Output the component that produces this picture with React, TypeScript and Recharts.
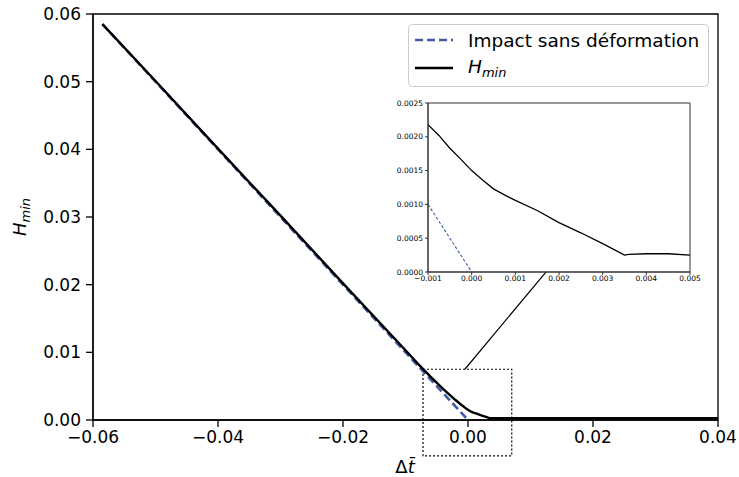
import { LineChart, Line, XAxis, YAxis, ReferenceArea, ReferenceLine } from 'recharts';

const FONT = '"DejaVu Sans", sans-serif';
const BLUE = '#3f5aa8';

const hminX = [
  -0.0585, -0.05, -0.04, -0.03, -0.02, -0.01, -0.008, -0.006, -0.004, -0.002,
  -0.001, -0.00075, -0.0005, -0.00025, 0, 0.00025, 0.0005, 0.00075, 0.001, 0.0015,
  0.002, 0.0025, 0.003, 0.0035, 0.0036, 0.004, 0.0045, 0.005, 0.01, 0.02, 0.03, 0.04,
];
const hminY = [
  0.0585, 0.0501, 0.0401, 0.0302, 0.0202, 0.0103, 0.0083, 0.0064, 0.0046, 0.00295,
  0.00218, 0.00202, 0.00183, 0.00167, 0.0015, 0.00136, 0.00123, 0.00114, 0.00106, 0.00091,
  0.00073, 0.00058, 0.00042, 0.00025, 0.00026, 0.00027, 0.00027, 0.00025, 0.00025, 0.00025, 0.00025, 0.00025,
];

// rigid impact: H = -t
const impactX = [-0.0585, -0.03, -0.001, 0];
const impactY = [0.0585, 0.03, 0.001, 0];

const mainXTicks = [-0.06, -0.04, -0.02, 0, 0.02, 0.04];
const mainYTicks = [0, 0.01, 0.02, 0.03, 0.04, 0.05, 0.06];
const insetXTicks = [-0.001, 0, 0.001, 0.002, 0.003, 0.004, 0.005];
const insetYTicks = [0, 0.0005, 0.001, 0.0015, 0.002, 0.0025];

// dotted zoom box + connector, data coords of the main axes
const zoomBox = { x1: -0.0072, x2: 0.007, y1: -0.0053, y2: 0.0075 };
const connector = [
  { x: -0.0005, y: 0.0075 },
  { x: 0.0125, y: 0.0219 },
];

const hminData = hminX.map((x, i) => ({ x, y: hminY[i] }));
const impactData = impactX.map((x, i) => ({ x, y: impactY[i] }));
const inInset = (p: { x: number }) => p.x >= -0.001 && p.x <= 0.005;

const fmt = (d: number) => (v: number) => v.toFixed(d).replace('-', '\u2212');

export default function App() {
  const mainTick = { fill: '#000', fontSize: 17, fontFamily: FONT };
  const insetTick = { fill: '#000', fontSize: 7.5, fontFamily: FONT };

  return (
    <div style={{ position: 'absolute', left: 0, top: 0, width: 739, height: 477, background: '#fff', fontFamily: FONT }}>
      <div style={{ position: 'absolute', left: 0, top: 0 }}>
        <LineChart width={739} height={477} margin={{ top: 14, right: 21, left: 13, bottom: 0 }}>
          <XAxis
            dataKey="x"
            type="number"
            domain={[-0.06, 0.04]}
            ticks={mainXTicks}
            tickFormatter={fmt(2)}
            height={57}
            tickSize={7}
            tickMargin={4}
            stroke="#000"
            strokeWidth={1.3}
            tick={mainTick}
            allowDataOverflow
          />
          <YAxis
            type="number"
            domain={[0, 0.06]}
            ticks={mainYTicks}
            tickFormatter={fmt(2)}
            width={80}
            tickSize={7}
            tickMargin={5}
            stroke="#000"
            strokeWidth={1.3}
            tick={mainTick}
            allowDataOverflow
          />
          <ReferenceArea x1={-0.06} x2={0.04} y1={0} y2={0.06} fill="none" stroke="#000" strokeWidth={1.3} fillOpacity={0} />
          <ReferenceArea
            x1={zoomBox.x1}
            x2={zoomBox.x2}
            y1={zoomBox.y1}
            y2={zoomBox.y2}
            ifOverflow="visible"
            fill="none"
            fillOpacity={0}
            stroke="#000"
            strokeWidth={1.2}
            strokeDasharray="2 2"
          />
          <ReferenceLine segment={connector} stroke="#000" strokeWidth={1.2} ifOverflow="visible" />
          <Line data={impactData} dataKey="y" stroke={BLUE} strokeWidth={2.6} strokeDasharray="8 4" dot={false} isAnimationActive={false} />
          <Line data={hminData} dataKey="y" stroke="#000" strokeWidth={2.4} dot={false} isAnimationActive={false} />
        </LineChart>
      </div>

      {/* inset background */}
      <div style={{ position: 'absolute', left: 428, top: 103, width: 262, height: 169, background: '#fff' }} />
      <div style={{ position: 'absolute', left: 388, top: 98 }}>
        <LineChart width={320} height={194} margin={{ top: 5, right: 18, left: 0, bottom: 0 }}>
          <XAxis
            dataKey="x"
            type="number"
            domain={[-0.001, 0.005]}
            ticks={insetXTicks}
            tickFormatter={fmt(3)}
            height={20}
            tickSize={3}
            tickMargin={1}
            stroke="#333"
            tick={insetTick}
            allowDataOverflow
          />
          <YAxis
            type="number"
            domain={[0, 0.0025]}
            ticks={insetYTicks}
            tickFormatter={fmt(4)}
            width={40}
            tickSize={3}
            tickMargin={2}
            stroke="#333"
            tick={insetTick}
            allowDataOverflow
          />
          <ReferenceArea x1={-0.001} x2={0.005} y1={0} y2={0.0025} fill="none" fillOpacity={0} stroke="#333" strokeWidth={1} />
          <Line data={impactData.filter(inInset)} dataKey="y" stroke={BLUE} strokeWidth={1.1} strokeDasharray="3 2" dot={false} isAnimationActive={false} />
          <Line data={hminData.filter(inInset)} dataKey="y" stroke="#000" strokeWidth={1.3} dot={false} isAnimationActive={false} />
        </LineChart>
      </div>

      {/* legend and axis titles */}
      <svg width={739} height={477} style={{ position: 'absolute', left: 0, top: 0, pointerEvents: 'none' }} fontFamily={FONT}>
        <rect x={408.5} y={24.5} width={300} height={62} rx={4} fill="#fff" fillOpacity={0.85} stroke="#ccc" />
        <line x1={415} x2={453} y1={40} y2={40} stroke={BLUE} strokeWidth={2.6} strokeDasharray="8 4" />
        <text x={468} y={46.5} fontSize={18.5} fill="#000">Impact sans déformation</text>
        <line x1={415} x2={453} y1={68} y2={68} stroke="#000" strokeWidth={2.4} />
        <text x={468} y={73} fontSize={18.5} fill="#000" fontStyle="italic">
          H<tspan fontSize={13} dy={4}>min</tspan>
        </text>

        <text x={26} y={217} fontSize={18} fill="#000" fontStyle="italic" textAnchor="middle" transform="rotate(-90 26 217)">
          H<tspan fontSize={13} dy={4}>min</tspan>
        </text>
        <text x={405} y={473} fontSize={18} fill="#000" textAnchor="middle">
          Δ<tspan fontStyle="italic">t̄</tspan>
        </text>
      </svg>
    </div>
  );
}
